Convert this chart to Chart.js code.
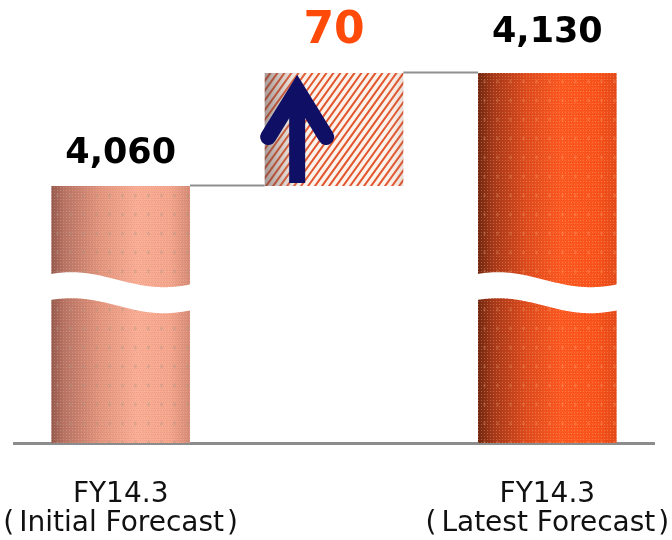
<!DOCTYPE html>
<html>
<head>
<meta charset="utf-8">
<script src="https://cdn.jsdelivr.net/npm/chart.js@4/dist/chart.umd.min.js"></script>
<style>
  html, body { margin: 0; padding: 0; background: #ffffff; }
  #wrap { width: 672px; height: 540px; }
</style>
</head>
<body>
<div id="wrap"><canvas id="chart" width="672" height="540"></canvas></div>
<script>
// Sales forecast bridge: initial forecast, revision, latest forecast
const categories = [['FY14.3', '（Initial Forecast）'], '', ['FY14.3', '（Latest Forecast）']];
const initialForecast = 4060;
const revision = 70;
const latestForecast = 4130;
const valueLabels = ['4,060', '70', '4,130'];
const axisMin = 3901;
const axisMax = 4151;
const breakValue = 3994;   // where the broken-axis band crosses the tall bars

// floating bars: [start, end]
const barRanges = [
  [axisMin, initialForecast],
  [initialForecast, initialForecast + revision],
  [axisMin, latestForecast]
];

const CAT_PCT = 0.65;
const fillCache = {};

function barGeom(chart, index) {
  const xs = chart.scales.x;
  const w = xs.width / categories.length * CAT_PCT;
  const left = xs.getPixelForValue(index) - w / 2;
  return { left, w };
}

function paintCylinder(g, w, h, stops) {
  const grad = g.createLinearGradient(0, 0, w, 0);
  stops.forEach(s => grad.addColorStop(s[0], s[1]));
  g.fillStyle = grad;
  g.fillRect(0, 0, w, h);
}

function paintTexture(g, w, h, light, dark, spot) {
  // fine dither
  for (let y = 0; y < h; y += 2) {
    for (let x = (y / 2) % 2; x < w; x += 2) {
      g.fillStyle = dark;
      g.fillRect(x, y, 1, 1);
    }
  }
  for (let y = 1; y < h; y += 3) {
    for (let x = 1; x < w; x += 3) {
      g.fillStyle = light;
      g.fillRect(x, y, 1, 1);
    }
  }
  // speckled spots
  for (let y = 4; y < h; y += 19) {
    for (let x = 6; x < w; x += 13) {
      g.fillStyle = spot;
      g.fillRect(x, y, 3, 3);
      g.fillRect(x + 1, y - 1, 1, 5);
    }
  }
}

function paintStripes(g, w, h) {
  g.fillStyle = '#fbf3ec';
  g.fillRect(0, 0, w, h);
  g.strokeStyle = '#e2562e';
  g.lineWidth = 2;
  const k = 0.72;
  for (let x0 = -h * k - 10; x0 < w + 10; x0 += 7) {
    g.beginPath();
    g.moveTo(x0, h);
    g.lineTo(x0 + h * k, 0);
    g.stroke();
  }
  const sh = g.createLinearGradient(0, 0, w, 0);
  sh.addColorStop(0, 'rgba(90,70,70,0.55)');
  sh.addColorStop(0.12, 'rgba(110,90,90,0.3)');
  sh.addColorStop(0.35, 'rgba(255,255,255,0)');
  sh.addColorStop(0.85, 'rgba(255,255,255,0)');
  sh.addColorStop(1, 'rgba(120,80,70,0.15)');
  g.fillStyle = sh;
  g.fillRect(0, 0, w, h);
}

function barFill(ctx) {
  const chart = ctx.chart;
  const i = ctx.dataIndex;
  if (!chart.chartArea || !chart.scales.x) return '#f0a088';
  const { left, w } = barGeom(chart, i);
  const key = i + ':' + Math.round(left) + ':' + Math.round(w);
  if (fillCache[key]) return fillCache[key];
  const h = Math.ceil(chart.chartArea.bottom) + 4;
  const cw = Math.ceil(w) + 2;
  const c = document.createElement('canvas');
  c.width = cw; c.height = h;
  const g = c.getContext('2d');
  if (i === 0) {
    paintCylinder(g, cw, h, [[0, '#93574a'], [0.1, '#b97464'], [0.35, '#e3957e'], [0.62, '#fbae95'], [0.85, '#f6a68d'], [1, '#d68b76']]);
    paintTexture(g, cw, h, 'rgba(255,220,200,0.25)', 'rgba(120,70,60,0.10)', 'rgba(170,150,130,0.22)');
  } else if (i === 2) {
    paintCylinder(g, cw, h, [[0, '#6e2710'], [0.12, '#a8391a'], [0.35, '#e04c1e'], [0.6, '#ff5a22'], [0.85, '#fb541c'], [1, '#e44a19']]);
    paintTexture(g, cw, h, 'rgba(255,190,140,0.35)', 'rgba(120,30,0,0.10)', 'rgba(255,200,150,0.12)');
  } else {
    paintStripes(g, cw, h);
  }
  const p = chart.ctx.createPattern(c, 'no-repeat');
  p.setTransform(new DOMMatrix().translate(Math.floor(left) - 1, 0));
  fillCache[key] = p;
  return p;
}

// gray connectors between the bars
const connectorPlugin = {
  id: 'connectors',
  beforeDatasetsDraw(chart) {
    const meta = chart.getDatasetMeta(0);
    const ys = chart.scales.y;
    const ctx = chart.ctx;
    const levels = [initialForecast, latestForecast];
    ctx.save();
    ctx.strokeStyle = '#8f8f8f';
    ctx.lineWidth = 2;
    for (let k = 0; k < 2; k++) {
      const a = meta.data[k], b = meta.data[k + 1];
      const y = Math.round(ys.getPixelForValue(levels[k])) - 0.5;
      ctx.beginPath();
      ctx.moveTo(a.x + a.width / 2, y);
      ctx.lineTo(b.x - b.width / 2, y);
      ctx.stroke();
    }
    ctx.restore();
  }
};

// white wavy band marking the broken axis on the tall bars
const breakPlugin = {
  id: 'axisBreak',
  afterDatasetsDraw(chart) {
    const meta = chart.getDatasetMeta(0);
    const ys = chart.scales.y;
    const yc = ys.getPixelForValue(breakValue);
    const ctx = chart.ctx;
    const half = 13, amp = 7.5, period = 185, phase = 21;
    ctx.save();
    ctx.fillStyle = '#ffffff';
    [0, 2].forEach(i => {
      const el = meta.data[i];
      const left = el.x - el.width / 2 - 1;
      const right = el.x + el.width / 2 + 1;
      const wave = x => -amp * Math.cos(2 * Math.PI * (x - left - phase) / period);
      ctx.beginPath();
      ctx.moveTo(left, yc - half + wave(left));
      for (let x = left; x <= right; x += 1) ctx.lineTo(x, yc - half + wave(x));
      ctx.lineTo(right, yc - half + wave(right));
      ctx.lineTo(right, yc + half + wave(right));
      for (let x = right; x >= left; x -= 1) ctx.lineTo(x, yc + half + wave(x));
      ctx.closePath();
      ctx.fill();
    });
    ctx.restore();
  }
};

// upward arrow on the revision bar
const arrowPlugin = {
  id: 'arrow',
  afterDatasetsDraw(chart) {
    const el = chart.getDatasetMeta(0).data[1];
    const ctx = chart.ctx;
    const x0 = el.x - el.width / 2 + 32.5;
    const top = el.y;
    const vertex = top + 17;
    const wingY = top + 64;
    ctx.save();
    ctx.strokeStyle = '#0f0f66';
    ctx.lineWidth = 16;
    ctx.lineCap = 'butt';
    ctx.beginPath();
    ctx.moveTo(x0, el.base - 3);
    ctx.lineTo(x0, vertex + 4);
    ctx.stroke();
    ctx.lineCap = 'round';
    ctx.lineJoin = 'miter';
    ctx.miterLimit = 10;
    ctx.beginPath();
    ctx.moveTo(x0 - 29, wingY);
    ctx.lineTo(x0, vertex);
    ctx.lineTo(x0 + 29, wingY);
    ctx.stroke();
    ctx.restore();
  }
};

// value labels above the bars
const valueLabelPlugin = {
  id: 'valueLabels',
  afterDatasetsDraw(chart, args, opts) {
    const meta = chart.getDatasetMeta(0);
    const ctx = chart.ctx;
    ctx.save();
    ctx.textAlign = 'center';
    ctx.textBaseline = 'alphabetic';
    meta.data.forEach((el, i) => {
      ctx.font = 'bold ' + opts.sizes[i] + 'px "DejaVu Sans", Verdana, sans-serif';
      ctx.fillStyle = opts.colors[i];
      ctx.fillText(valueLabels[i], el.x, el.y - opts.gaps[i]);
    });
    ctx.restore();
  }
};

// category captions under the axis; full-width brackets get a wide slot
const captionPlugin = {
  id: 'captions',
  afterDraw(chart, args, opts) {
    const xs = chart.scales.x;
    const ctx = chart.ctx;
    ctx.save();
    ctx.font = opts.size + 'px "DejaVu Sans", sans-serif';
    ctx.fillStyle = opts.color;
    ctx.textBaseline = 'middle';
    ctx.textAlign = 'left';
    const narrow = { '（': '(', '）': ')' };
    categories.forEach((lines, i) => {
      if (!Array.isArray(lines)) return;
      const cx = xs.getPixelForValue(i);
      lines.forEach((line, j) => {
        const pieces = [];
        let buf = '';
        for (const ch of line) {
          if (narrow[ch]) {
            if (buf) { pieces.push({ t: buf }); buf = ''; }
            pieces.push({ t: narrow[ch], open: ch === '（' });
          } else buf += ch;
        }
        if (buf) pieces.push({ t: buf });
        let total = 0;
        pieces.forEach(p => {
          p.gw = ctx.measureText(p.t).width;
          p.w = p.open === undefined ? p.gw : p.gw + (p.open ? opts.openGap : opts.closeGap);
          total += p.w;
        });
        let x = cx - total / 2;
        const y = xs.bottom + opts.firstLine + j * opts.lineGap;
        pieces.forEach(p => {
          const gx = p.open === undefined ? x : (p.open ? x : x + opts.closeGap);
          ctx.fillText(p.t, gx, y);
          x += p.w;
        });
      });
    });
    ctx.restore();
  }
};

new Chart(document.getElementById('chart'), {
  type: 'bar',
  data: {
    labels: categories,
    datasets: [{
      data: barRanges,
      backgroundColor: barFill,
      borderWidth: 0,
      borderSkipped: false,
      categoryPercentage: CAT_PCT,
      barPercentage: 1.0
    }]
  },
  options: {
    responsive: false,
    animation: false,
    devicePixelRatio: 1,
    events: [],
    layout: { padding: { left: 14, right: 18, top: 39, bottom: 97 } },
    plugins: {
      legend: { display: false },
      tooltip: { enabled: false },
      valueLabels: {
        sizes: [35, 44, 35],
        colors: ['#000000', '#ff4a0a', '#000000'],
        gaps: [23, 30, 31]
      },
      captions: { size: 28, color: '#111111', firstLine: 52, lineGap: 29, openGap: 5, closeGap: 3 }
    },
    scales: {
      x: {
        grid: { display: false, drawTicks: false },
        border: { display: true, color: '#8c8c8c', width: 3 },
        ticks: { display: false }
      },
      y: {
        display: false,
        min: axisMin,
        max: axisMax
      }
    }
  },
  plugins: [connectorPlugin, breakPlugin, arrowPlugin, valueLabelPlugin, captionPlugin]
});
</script>
</body>
</html>
